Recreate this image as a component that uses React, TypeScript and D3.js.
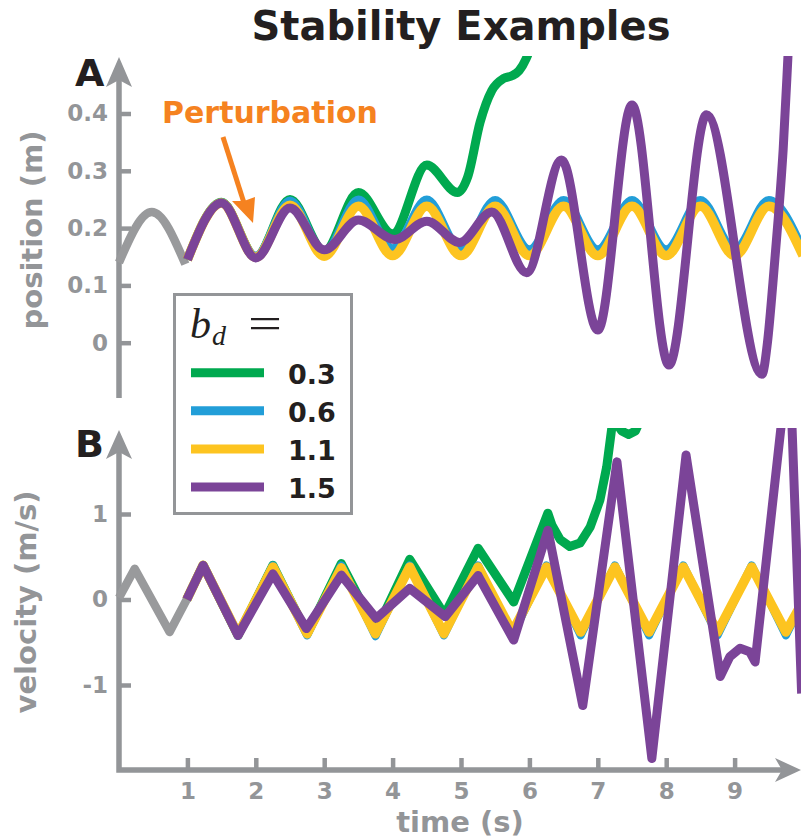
import React, { useRef, useEffect } from 'react';
import * as d3 from 'd3';

type Pt = [number, number];

// legend / series
const seriesNames = ['0.3', '0.6', '1.1', '1.5'];
const seriesColors = ['#00a94f', '#229ed8', '#fdc420', '#7b4498'];
const seriesWidths = [9, 8, 9.5, 9];

const xTicks = [1, 2, 3, 4, 5, 6, 7, 8, 9];
const posTicks = [0, 0.1, 0.2, 0.3, 0.4];
const velTicks = [-1, 0, 1];

// panel A: position (m) before the perturbation
const posLead: Pt[] = [[0, 0.14], [0.48, 0.228], [0.97, 0.137]];

const posGreen: Pt[] = [
  [1.0, 0.145], [1.5, 0.245], [2.0, 0.15], [2.5, 0.25], [3.0, 0.16], [3.5, 0.262],
  [4.0, 0.19], [4.5, 0.31], [4.95, 0.262], [5.1, 0.29], [5.28, 0.385], [5.45, 0.44],
  [5.62, 0.461], [5.75, 0.466], [5.85, 0.475], [5.95, 0.495], [6.05, 0.53], [6.15, 0.6],
];
const posBlue: Pt[] = [
  [1.0, 0.145], [1.5, 0.245], [2.0, 0.152], [2.5, 0.248], [3.0, 0.158], [3.5, 0.25],
  [4.0, 0.165], [4.5, 0.25], [5.0, 0.163], [5.5, 0.249], [6.0, 0.163], [6.5, 0.249],
  [7.0, 0.163], [7.5, 0.249], [8.0, 0.163], [8.5, 0.249], [9.0, 0.163], [9.5, 0.249],
  [10.0, 0.163],
];
const posYellow: Pt[] = [
  [1.0, 0.145], [1.5, 0.244], [2.0, 0.149], [2.5, 0.24], [3.0, 0.151], [3.5, 0.238],
  [4.0, 0.152], [4.5, 0.238], [5.0, 0.152], [5.5, 0.238], [6.0, 0.152], [6.5, 0.238],
  [7.0, 0.152], [7.5, 0.238], [8.0, 0.152], [8.5, 0.238], [9.0, 0.152], [9.5, 0.238],
  [10.0, 0.152],
];
const posPurple: Pt[] = [
  [1.0, 0.145], [1.5, 0.244], [2.0, 0.148], [2.5, 0.235], [3.0, 0.162], [3.5, 0.214],
  [4.03, 0.18], [4.5, 0.212], [4.98, 0.175], [5.45, 0.228], [5.96, 0.122], [6.47, 0.319],
  [7.0, 0.022], [7.5, 0.415], [8.04, -0.039], [8.59, 0.398], [9.4, -0.055], [9.48, 0.0],
  [9.56, 0.104], [9.64, 0.22], [9.71, 0.337], [9.78, 0.5], [9.86, 0.7],
];

// panel B: velocity (m/s)
const velLead: Pt[] = [[0, 0.02], [0.23, 0.36], [0.74, -0.38], [0.99, 0]];

const velGreen: Pt[] = [
  [0.99, 0], [1.23, 0.4], [1.74, -0.42], [2.25, 0.4], [2.75, -0.4], [3.25, 0.42],
  [3.76, -0.36], [4.25, 0.47], [4.76, -0.18], [5.25, 0.6], [5.77, -0.03], [6.27, 1.01],
  [6.33, 0.87], [6.45, 0.7], [6.59, 0.62], [6.74, 0.66], [6.89, 0.85], [7.03, 1.16],
  [7.13, 1.55], [7.2, 1.98], [7.24, 2.2], [7.29, 2.04], [7.35, 1.97], [7.45, 1.93],
  [7.55, 1.97], [7.62, 2.1], [7.66, 2.4],
];
const velBlue: Pt[] = [
  [0.99, 0], [1.23, 0.4], [1.74, -0.42], [2.25, 0.4], [2.75, -0.42], [3.25, 0.4],
  [3.75, -0.43], [4.25, 0.4], [4.75, -0.42], [5.25, 0.4], [5.75, -0.42], [6.25, 0.4],
  [6.75, -0.42], [7.25, 0.4], [7.75, -0.42], [8.25, 0.4], [8.75, -0.42], [9.25, 0.4],
  [9.75, -0.42], [10.0, -0.02],
];
const velYellow: Pt[] = [
  [0.99, 0], [1.23, 0.4], [1.74, -0.41], [2.25, 0.38], [2.75, -0.4], [3.25, 0.37],
  [3.75, -0.4], [4.25, 0.38], [4.75, -0.4], [5.25, 0.38], [5.75, -0.38], [6.25, 0.38],
  [6.75, -0.38], [7.25, 0.38], [7.75, -0.38], [8.25, 0.38], [8.75, -0.38], [9.25, 0.38],
  [9.75, -0.38], [10.0, -0.02],
];
const velPurple: Pt[] = [
  [0.99, 0], [1.23, 0.4], [1.74, -0.42], [2.25, 0.3], [2.74, -0.34], [3.25, 0.285],
  [3.76, -0.22], [4.25, 0.13], [4.77, -0.2], [5.25, 0.28], [5.77, -0.475], [6.27, 0.81],
  [6.78, -1.24], [7.28, 1.61], [7.79, -1.86], [8.29, 1.69], [8.79, -0.9], [8.93, -0.67],
  [9.08, -0.57], [9.22, -0.61], [9.3, -0.73], [9.8, 2.9], [9.98, -1.1],
];

const GRAY = '#939598';
const INK = '#231f20';
const ORANGE = '#f58220';
const FONT = '"DejaVu Sans", "Liberation Sans", sans-serif';

function StabilityExamples() {
  const ref = useRef<SVGSVGElement>(null);

  useEffect(() => {
    const svg = d3.select(ref.current);
    svg.selectAll('*').remove();

    const x = d3.scaleLinear().domain([0, 10]).range([119, 803]);
    const yPos = d3.scaleLinear().domain([0, 0.4]).range([342.7, 113.5]);
    const yVel = d3.scaleLinear().domain([-1, 1]).range([685, 514]);

    const defs = svg.append('defs');
    defs.append('clipPath').attr('id', 'clipA')
      .append('rect').attr('x', 100).attr('y', 56).attr('width', 710).attr('height', 345);
    defs.append('clipPath').attr('id', 'clipB')
      .append('rect').attr('x', 100).attr('y', 428).attr('width', 710).attr('height', 350);

    // axes
    const axisA = svg.append('g')
      .attr('transform', 'translate(119,0)')
      .call(d3.axisLeft(yPos).tickValues(posTicks).tickSize(-12).tickPadding(11)
        .tickFormat(d => (+d === 0 ? '0' : d3.format('.1f')(+d))));
    const axisB = svg.append('g')
      .attr('transform', 'translate(119,0)')
      .call(d3.axisLeft(yVel).tickValues(velTicks).tickSize(-12).tickPadding(11)
        .tickFormat(d => String(d)));
    const axisX = svg.append('g')
      .attr('transform', 'translate(0,770)')
      .call(d3.axisBottom(x).tickValues(xTicks).tickSize(-12).tickPadding(13)
        .tickFormat(d => String(d)));

    [axisA, axisB, axisX].forEach(g => {
      g.select('.domain').remove();
      g.attr('font-family', FONT).attr('font-size', 23).attr('font-weight', 'bold');
      g.selectAll('line').attr('stroke', GRAY).attr('stroke-width', 4.5);
      g.selectAll('text').attr('fill', GRAY);
    });

    svg.append('path')
      .attr('d', 'M119,398V80M119,452V770H782')
      .attr('fill', 'none')
      .attr('stroke', GRAY)
      .attr('stroke-width', 5.5);
    svg.append('path')
      .attr('d', 'M119,57L132,87L119,80L106,87Z M119,430L132,459L119,452L106,459Z M801,770L775,758L782,770L775,782Z')
      .attr('fill', GRAY);

    // data lines
    const linePos = d3.line<Pt>().x(d => x(d[0])).y(d => yPos(d[1])).curve(d3.curveMonotoneX);
    const lineVel = d3.line<Pt>().x(d => x(d[0])).y(d => yVel(d[1]));

    const gA = svg.append('g').attr('clip-path', 'url(#clipA)');
    gA.append('path')
      .attr('d', linePos(posLead))
      .attr('fill', 'none').attr('stroke', '#999a9c').attr('stroke-width', 8.5);
    [posGreen, posBlue, posYellow, posPurple].forEach((s, i) => {
      gA.append('path')
        .attr('d', linePos(s))
        .attr('fill', 'none')
        .attr('stroke', seriesColors[i])
        .attr('stroke-width', seriesWidths[i]);
    });

    const gB = svg.append('g').attr('clip-path', 'url(#clipB)');
    gB.append('path')
      .attr('d', lineVel(velLead))
      .attr('fill', 'none').attr('stroke', '#999a9c').attr('stroke-width', 8.5)
      .attr('stroke-linejoin', 'round');
    [velGreen, velBlue, velYellow, velPurple].forEach((s, i) => {
      gB.append('path')
        .attr('d', lineVel(s))
        .attr('fill', 'none')
        .attr('stroke', seriesColors[i])
        .attr('stroke-width', seriesWidths[i])
        .attr('stroke-linejoin', 'round');
    });

    // titles and labels
    svg.append('text')
      .attr('x', 461).attr('y', 40)
      .attr('text-anchor', 'middle')
      .attr('font-family', FONT).attr('font-weight', 'bold').attr('font-size', 40)
      .attr('fill', INK)
      .text('Stability Examples');

    svg.append('text').attr('x', 75).attr('y', 86)
      .attr('font-family', FONT).attr('font-weight', 'bold').attr('font-size', 38)
      .attr('fill', INK).text('A');
    svg.append('text').attr('x', 75).attr('y', 457)
      .attr('font-family', FONT).attr('font-weight', 'bold').attr('font-size', 38)
      .attr('fill', INK).text('B');

    svg.append('text')
      .attr('transform', 'translate(42,230) rotate(-90)')
      .attr('text-anchor', 'middle')
      .attr('font-family', FONT).attr('font-weight', 'bold').attr('font-size', 29)
      .attr('fill', GRAY)
      .text('position (m)');
    svg.append('text')
      .attr('transform', 'translate(36,602) rotate(-90)')
      .attr('text-anchor', 'middle')
      .attr('font-family', FONT).attr('font-weight', 'bold').attr('font-size', 29)
      .attr('fill', GRAY)
      .text('velocity (m/s)');
    svg.append('text')
      .attr('x', 460).attr('y', 832)
      .attr('text-anchor', 'middle')
      .attr('font-family', FONT).attr('font-weight', 'bold').attr('font-size', 29)
      .attr('fill', GRAY)
      .text('time (s)');

    // perturbation annotation
    svg.append('text')
      .attr('x', 162).attr('y', 123)
      .attr('font-family', FONT).attr('font-weight', 'bold').attr('font-size', 30)
      .attr('fill', ORANGE)
      .text('Perturbation');
    svg.append('line')
      .attr('x1', 223).attr('y1', 137).attr('x2', 244).attr('y2', 203)
      .attr('stroke', ORANGE).attr('stroke-width', 5);
    svg.append('path')
      .attr('d', 'M253,223L232,201L244,201L255,197Z')
      .attr('fill', ORANGE);

    // legend
    const legend = svg.append('g');
    legend.append('rect')
      .attr('x', 174.5).attr('y', 294.5).attr('width', 177).attr('height', 219)
      .attr('fill', '#fff').attr('stroke', GRAY).attr('stroke-width', 3);
    legend.append('text')
      .attr('x', 190).attr('y', 338)
      .attr('font-family', '"Liberation Serif", "DejaVu Serif", serif')
      .attr('font-style', 'italic').attr('font-size', 42).attr('fill', INK)
      .text('b');
    legend.append('text')
      .attr('x', 212).attr('y', 345)
      .attr('font-family', '"Liberation Serif", "DejaVu Serif", serif')
      .attr('font-style', 'italic').attr('font-size', 28).attr('fill', INK)
      .text('d');
    legend.append('text')
      .attr('x', 248).attr('y', 338)
      .attr('font-family', '"Liberation Serif", "DejaVu Serif", serif')
      .attr('font-size', 44).attr('fill', INK)
      .attr('textLength', 34).attr('lengthAdjust', 'spacingAndGlyphs')
      .text('=');

    const rowY = d3.scaleLinear().domain([0, 3]).range([372.7, 487]);
    seriesNames.forEach((name, i) => {
      legend.append('line')
        .attr('x1', 191).attr('x2', 264)
        .attr('y1', rowY(i)).attr('y2', rowY(i))
        .attr('stroke', seriesColors[i]).attr('stroke-width', 9);
      legend.append('text')
        .attr('x', 288).attr('y', rowY(i) + 11)
        .attr('font-family', FONT).attr('font-weight', 'bold').attr('font-size', 27)
        .attr('fill', INK)
        .text(name);
    });
  }, []);

  return (
    <svg ref={ref} width={801} height={839}
      style={{ position: 'absolute', left: 0, top: 0, background: '#fff' }} />
  );
}

export default function App() {
  return <StabilityExamples />;
}
